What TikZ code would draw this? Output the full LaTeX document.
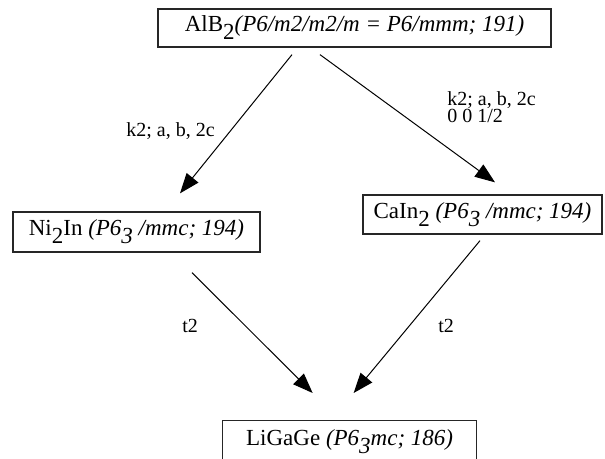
\documentclass[tikz,border=0pt]{standalone}
\usepackage{fontspec}
\setmainfont{Liberation Serif}
\usetikzlibrary{arrows.meta, positioning}
\newcommand{\lowsub}[1]{\raisebox{-0.35em}{#1}}

\begin{document}
\begin{tikzpicture}[x=0.5pt, y=-0.5pt,
    phase/.style={draw=black!85, line width=0.65pt, inner sep=0pt, font=\fontsize{11.5}{13}\selectfont},
    lbl/.style={inner sep=0pt, font=\fontsize{10}{8.5}\selectfont},
    conn/.style={line width=0.5pt, -{Triangle[length=10pt, width=7.5pt]}}]
    \useasboundingbox (0,0) rectangle (605,459);

    % Parent structure
    \node[phase, minimum width=196.5pt, minimum height=19pt] (alb2) at (354.5,28) {AlB\lowsub{2}\textit{(P6/m2/m2/m = P6/mmm; 191)}};

    % Subgroups of index 2
    \node[phase, minimum width=123.5pt, minimum height=20pt] (ni2in) at (136.5,232) {Ni\lowsub{2}In \textit{(P6\lowsub{3} /mmc; 194)}};
    \node[phase, minimum width=119.5pt, minimum height=19.5pt] (cain2) at (482.5,214.5) {CaIn\lowsub{2} \textit{(P6\lowsub{3} /mmc; 194)}};

    % Ordered ternary
    \node[phase, minimum width=127pt, minimum height=21pt, anchor=north west] (ligage) at (222,420) {LiGaGe \textit{(P6\lowsub{3}mc; 186)}};

    % Group-subgroup arrows
    \draw[conn] ([xshift=-31.25pt, yshift=-3.5pt]alb2.south) -- ([xshift=21.75pt, yshift=9pt]ni2in.north);
    \draw[conn] ([xshift=-17.25pt, yshift=-3.5pt]alb2.south) -- ([xshift=6.25pt, yshift=6pt]cain2.north);
    \draw[conn] ([xshift=27.75pt, yshift=-10pt]ni2in.south) -- ([xshift=-18.5pt, yshift=13.5pt]ligage.north);
    \draw[conn] ([xshift=-1.25pt, yshift=-3pt]cain2.south) -- ([xshift=2pt, yshift=13.5pt]ligage.north);

    % Transformations
    \node[lbl, anchor=base west] (k2left) at (126,137) {k2; a, b, 2c};
    \node[lbl, anchor=north west, align=left] (k2right) at (447,91) {k2; a, b, 2c\\0 0 1/2};
    \node[lbl, anchor=base west] (t2left) at (182,333) {t2};
    \node[lbl, anchor=base west] (t2right) at (438,333) {t2};
\end{tikzpicture}
\end{document}
